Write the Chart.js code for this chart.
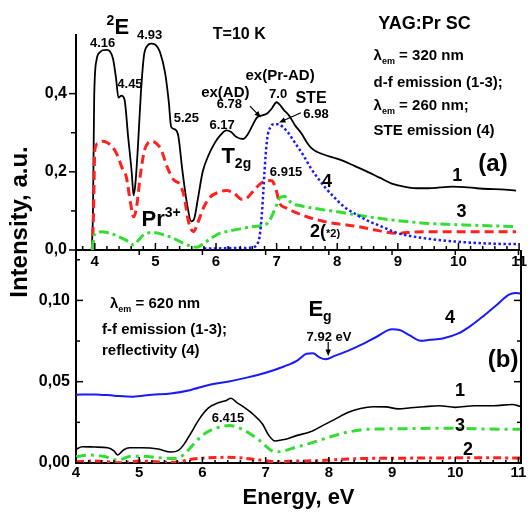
<!DOCTYPE html>
<html>
<head>
<meta charset="utf-8">
<script src="https://cdn.jsdelivr.net/npm/chart.js@4.4.1/dist/chart.umd.min.js"></script>
<style>
  html, body { margin: 0; padding: 0; background: #fff; }
  #wrap { position: relative; width: 530px; height: 513px; }
  #wrap canvas { position: absolute; left: 0; top: 0; }
</style>
</head>
<body>
<div id="wrap">
  <canvas id="chartA" width="530" height="513"></canvas>
  <canvas id="chartB" width="530" height="513"></canvas>
</div>
<script>
// === PANEL (a): excitation, lambda_em = 320 nm (1-3), 260 nm (4) ===
const a1E = [3.95, 3.97, 3.99, 4.03, 4.08, 4.13, 4.2, 4.25, 4.3, 4.35, 4.39, 4.44, 4.49, 4.55, 4.61, 4.64, 4.67, 4.71, 4.76, 4.81, 4.87, 4.93, 5.0, 5.08, 5.16, 5.22, 5.26, 5.33, 5.38, 5.44, 5.52, 5.59, 5.64, 5.7, 5.78, 5.87, 5.98, 6.08, 6.17, 6.25, 6.33, 6.45, 6.52, 6.6, 6.67, 6.78, 6.85, 6.92, 7.0, 7.05, 7.12, 7.2, 7.3, 7.41, 7.5, 7.57, 7.68, 7.8, 7.95, 8.1, 8.3, 8.5, 8.7, 8.9, 9.1, 9.3, 9.5, 9.7, 9.9, 10.1, 10.3, 10.5, 10.7, 10.95];
const a1V = [0, 0.1, 0.39, 0.487, 0.505, 0.511, 0.512, 0.508, 0.49, 0.44, 0.39, 0.395, 0.385, 0.29, 0.197, 0.14, 0.17, 0.26, 0.4, 0.496, 0.523, 0.528, 0.525, 0.504, 0.453, 0.38, 0.315, 0.308, 0.29, 0.21, 0.12, 0.073, 0.08, 0.13, 0.2, 0.24, 0.274, 0.295, 0.306, 0.302, 0.29, 0.284, 0.295, 0.318, 0.338, 0.345, 0.35, 0.362, 0.378, 0.372, 0.358, 0.345, 0.32, 0.298, 0.275, 0.261, 0.25, 0.243, 0.236, 0.228, 0.214, 0.2, 0.185, 0.17, 0.162, 0.158, 0.158, 0.16, 0.162, 0.161, 0.158, 0.156, 0.155, 0.152];

const a2E = [3.96, 3.98, 4.0, 4.05, 4.12, 4.2, 4.3, 4.38, 4.45, 4.52, 4.59, 4.64, 4.69, 4.75, 4.82, 4.88, 4.95, 5.02, 5.1, 5.19, 5.3, 5.4, 5.47, 5.55, 5.63, 5.7, 5.8, 5.9, 6.03, 6.17, 6.3, 6.42, 6.5, 6.6, 6.72, 6.85, 6.92, 6.98, 7.05, 7.15, 7.3, 7.5, 7.7, 7.9, 8.1, 8.35, 8.6, 8.8, 9.0, 9.3, 9.6, 10.0, 10.4, 10.95];
const a2V = [0, 0.1, 0.255, 0.272, 0.278, 0.275, 0.262, 0.24, 0.21, 0.187, 0.12, 0.085, 0.11, 0.19, 0.255, 0.274, 0.278, 0.272, 0.255, 0.214, 0.18, 0.168, 0.14, 0.07, 0.047, 0.07, 0.11, 0.135, 0.147, 0.152, 0.145, 0.13, 0.132, 0.148, 0.168, 0.178, 0.177, 0.16, 0.12, 0.108, 0.097, 0.085, 0.076, 0.069, 0.065, 0.06, 0.052, 0.046, 0.043, 0.046, 0.047, 0.047, 0.047, 0.047];

const a3E = [3.96, 3.99, 4.05, 4.12, 4.22, 4.34, 4.45, 4.55, 4.64, 4.72, 4.8, 4.9, 5.0, 5.15, 5.3, 5.45, 5.58, 5.68, 5.78, 5.9, 6.05, 6.2, 6.4, 6.6, 6.8, 6.87, 6.93, 7.0, 7.06, 7.13, 7.25, 7.4, 7.6, 7.8, 8.0, 8.3, 8.6, 8.9, 9.2, 9.5, 9.8, 10.1, 10.5, 10.9];
const a3V = [0, 0.038, 0.045, 0.047, 0.044, 0.038, 0.03, 0.022, 0.013, 0.025, 0.038, 0.044, 0.044, 0.038, 0.03, 0.018, 0.01, 0.007, 0.015, 0.028, 0.042, 0.048, 0.054, 0.06, 0.064, 0.072, 0.09, 0.115, 0.135, 0.137, 0.12, 0.113, 0.107, 0.102, 0.098, 0.09, 0.083, 0.077, 0.072, 0.068, 0.066, 0.064, 0.062, 0.06];

const a4E = [5.8, 6.0, 6.2, 6.4, 6.6, 6.68, 6.72, 6.76, 6.8, 6.84, 6.9, 6.96, 7.02, 7.1, 7.2, 7.3, 7.45, 7.57, 7.7, 7.8, 7.95, 8.1, 8.3, 8.5, 8.7, 9.0, 9.2, 9.4, 9.7, 10.0, 10.3, 10.6, 10.95];
const a4V = [0.004, 0.004, 0.005, 0.005, 0.007, 0.015, 0.035, 0.1, 0.2, 0.28, 0.315, 0.322, 0.322, 0.315, 0.298, 0.275, 0.24, 0.208, 0.18, 0.16, 0.135, 0.112, 0.092, 0.075, 0.062, 0.043, 0.036, 0.031, 0.025, 0.021, 0.018, 0.016, 0.015];

// === PANEL (b): lambda_em = 620 nm (1-3), reflectivity (4) ===
const b1E = [4.0, 4.1, 4.3, 4.5, 4.6, 4.66, 4.75, 4.85, 5.05, 5.3, 5.5, 5.62, 5.7, 5.8, 5.95, 6.1, 6.25, 6.38, 6.45, 6.55, 6.65, 6.8, 6.95, 7.05, 7.15, 7.3, 7.5, 7.7, 7.9, 8.1, 8.3, 8.5, 8.7, 8.9, 9.1, 9.3, 9.5, 9.75, 10.0, 10.3, 10.6, 10.9, 11.03];
const b1V = [0.0085, 0.01, 0.0098, 0.0094, 0.0075, 0.0049, 0.008, 0.0094, 0.0094, 0.0086, 0.0068, 0.0078, 0.011, 0.0172, 0.027, 0.034, 0.037, 0.0385, 0.0398, 0.037, 0.0345, 0.03, 0.024, 0.017, 0.0135, 0.0145, 0.017, 0.019, 0.023, 0.027, 0.031, 0.0335, 0.0346, 0.0345, 0.0333, 0.034, 0.0346, 0.0352, 0.0342, 0.0352, 0.0352, 0.036, 0.0348];

const b2E = [4.0, 4.3, 4.7, 5.0, 5.55, 5.85, 6.1, 6.4, 6.65, 6.9, 7.15, 7.5, 7.9, 8.3, 8.8, 9.3, 9.8, 10.3, 11.03];
const b2V = [0.0008, 0.0012, 0.0002, 0.0012, 0.0004, 0.0025, 0.0032, 0.0035, 0.003, 0.0018, 0.0008, 0.0012, 0.0015, 0.0025, 0.0029, 0.003, 0.0031, 0.0033, 0.003];

const b3E = [4.0, 4.2, 4.45, 4.66, 4.85, 5.05, 5.3, 5.58, 5.7, 5.8, 6.0, 6.2, 6.43, 6.65, 6.9, 7.1, 7.2, 7.45, 7.7, 7.95, 8.3, 8.7, 9.1, 9.6, 10.0, 10.5, 11.03];
const b3V = [0.0039, 0.0049, 0.004, 0.0018, 0.004, 0.0042, 0.0033, 0.0028, 0.005, 0.009, 0.017, 0.0213, 0.023, 0.0203, 0.014, 0.0075, 0.0069, 0.0094, 0.0121, 0.0152, 0.019, 0.0209, 0.021, 0.0213, 0.0213, 0.0209, 0.0207];

const b4E = [4.0, 4.3, 4.6, 4.9, 5.2, 5.5, 5.8, 6.1, 6.4, 6.7, 7.0, 7.3, 7.5, 7.65, 7.75, 7.85, 7.95, 8.1, 8.3, 8.5, 8.75, 9.0, 9.12, 9.28, 9.45, 9.6, 9.8, 10.05, 10.25, 10.45, 10.65, 10.85, 10.95, 11.03];
const b4V = [0.042, 0.0422, 0.0414, 0.0408, 0.042, 0.0428, 0.0448, 0.048, 0.05, 0.0525, 0.0555, 0.0595, 0.063, 0.0672, 0.0675, 0.065, 0.0638, 0.066, 0.069, 0.0725, 0.0775, 0.0822, 0.0818, 0.0785, 0.0752, 0.0758, 0.0766, 0.0797, 0.0845, 0.0905, 0.097, 0.1035, 0.1045, 0.1043];

// === TICKS ===
const xTicks = [4, 5, 6, 7, 8, 9, 10, 11];
const xLabels = ['4', '5', '6', '7', '8', '9', '10', '11'];
const yTicksA = [0, 0.2, 0.4];
const yLabelsA = ['0,0', '0,2', '0,4'];
const yMinorA = [0.1, 0.3, 0.5];
const yTicksB = [0, 0.05, 0.10];
const yLabelsB = ['0,00', '0,05', '0,10'];
const yMinorB = [0.025, 0.075, 0.125];
const xMinor = [];
for (let i = -1; i <= 35; i++) { if (i % 5) xMinor.push(+(4 + i * 0.2).toFixed(1)); }

const FONT = "'Liberation Sans', Arial, sans-serif";

// === TEXT LABELS (data coords of their panel) ===
const notesA = [
  { x: 4.13, y: 0.532, t: '4.16', size: 13 },
  { x: 4.58, y: 0.427, t: '4.45', size: 13 },
  { x: 4.905, y: 0.552, t: '4.93', size: 13 },
  { x: 4.38, y: 0.573, t: '^{2}E', size: 22 },
  { x: 5.51, y: 0.34, t: '5.25', size: 13 },
  { x: 6.10, y: 0.322, t: '6.17', size: 13 },
  { x: 6.335, y: 0.243, t: 'T_{2g}', size: 22 },
  { x: 5.095, y: 0.082, t: 'Pr^{3+}', size: 22 },
  { x: 6.154, y: 0.404, t: 'ex(AD)', size: 15 },
  { x: 6.22, y: 0.376, t: '6.78', size: 13 },
  { x: 7.057, y: 0.448, t: 'ex(Pr-AD)', size: 15 },
  { x: 7.025, y: 0.402, t: '7.0', size: 13 },
  { x: 7.567, y: 0.391, t: 'STE', size: 16 },
  { x: 7.649, y: 0.350, t: '6.98', size: 13 },
  { x: 7.156, y: 0.200, t: '6.915', size: 13 },
  { x: 7.83, y: 0.179, t: '4', size: 18 },
  { x: 9.98, y: 0.192, t: '1', size: 18 },
  { x: 10.57, y: 0.223, t: '(a)', size: 24 },
  { x: 10.05, y: 0.102, t: '3', size: 18 },
  { x: 7.80, y: 0.051, t: '2(~{*2)}', size: 18 },
  { x: 6.384, y: 0.555, t: 'T=10 K', size: 16 },
  { x: 9.44, y: 0.583, t: 'YAG:Pr SC', size: 18 },
  { x: 8.60, y: 0.499, t: 'λ_{em} = 320 nm', size: 15, align: 'left' },
  { x: 8.60, y: 0.430, t: 'd-f emission (1-3);', size: 15, align: 'left' },
  { x: 8.60, y: 0.371, t: 'λ_{em} = 260 nm;', size: 15, align: 'left' },
  { x: 8.60, y: 0.307, t: 'STE emission (4)', size: 15, align: 'left' }
];
const arrowsA = [
  { x0: 6.56, y0: 0.368, x1: 6.74, y1: 0.339 },
  { x0: 7.40, y0: 0.351, x1: 7.04, y1: 0.326 }
];
const notesB = [
  { x: 4.538, y: 0.0984, t: 'λ_{em} = 620 nm', size: 15, align: 'left' },
  { x: 4.411, y: 0.0824, t: 'f-f emission (1-3);', size: 15, align: 'left' },
  { x: 4.411, y: 0.0695, t: 'reflectivity (4)', size: 15, align: 'left' },
  { x: 6.405, y: 0.0283, t: '6.415', size: 13 },
  { x: 7.861, y: 0.0953, t: 'E_{g}', size: 22 },
  { x: 8.003, y: 0.0781, t: '7.92 eV', size: 13 },
  { x: 9.918, y: 0.0898, t: '4', size: 18 },
  { x: 10.756, y: 0.0646, t: '(b)', size: 24 },
  { x: 10.076, y: 0.0449, t: '1', size: 18 },
  { x: 10.076, y: 0.0234, t: '3', size: 18 },
  { x: 10.2, y: 0.0092, t: '2', size: 18 }
];
const arrowsB = [
  { x0: 7.99, y0: 0.0744, x1: 7.99, y1: 0.0658 }
];

// === HELPERS ===
const pts = (xs, ys) => xs.map((x, i) => ({ x, y: ys[i] }));

function series(xs, ys, color, width, dash) {
  return {
    data: pts(xs, ys),
    borderColor: color,
    borderWidth: width,
    borderDash: dash,
    pointRadius: 0,
    fill: false,
    cubicInterpolationMode: 'monotone'
  };
}

// text with _{sub} ^{sup} ~{small} parts
function richText(ctx, x, y, str, size, align) {
  const parts = [];
  const re = /([_^~])\{([^}]*)\}|([^_^~]+)/g;
  let m;
  while ((m = re.exec(str))) {
    if (m[3]) parts.push({ t: m[3], mode: '' });
    else parts.push({ t: m[2], mode: m[1] });
  }
  const small = Math.round(size * 0.62);
  let total = 0;
  parts.forEach(p => {
    p.size = p.mode ? small : size;
    ctx.font = `bold ${p.size}px ${FONT}`;
    p.w = ctx.measureText(p.t).width;
    total += p.w;
  });
  let cx = align === 'left' ? x : x - total / 2;
  const base = y + size * 0.36;
  ctx.textAlign = 'left';
  ctx.textBaseline = 'alphabetic';
  parts.forEach(p => {
    ctx.font = `bold ${p.size}px ${FONT}`;
    let by = base;
    if (p.mode === '_') by = base + size * 0.25;
    if (p.mode === '^') by = base - size * 0.42;
    ctx.fillText(p.t, cx, by);
    cx += p.w;
  });
}

function arrow(ctx, x0, y0, x1, y1) {
  const ang = Math.atan2(y1 - y0, x1 - x0), h = 7;
  ctx.lineWidth = 1.2;
  ctx.beginPath(); ctx.moveTo(x0, y0); ctx.lineTo(x1 - Math.cos(ang) * h * 0.8, y1 - Math.sin(ang) * h * 0.8); ctx.stroke();
  ctx.beginPath();
  ctx.moveTo(x1, y1);
  ctx.lineTo(x1 - h * Math.cos(ang - 0.4), y1 - h * Math.sin(ang - 0.4));
  ctx.lineTo(x1 - h * Math.cos(ang + 0.4), y1 - h * Math.sin(ang + 0.4));
  ctx.closePath(); ctx.fill();
}

// === PLUGINS ===
const notesPlugin = {
  id: 'notes',
  afterDatasetsDraw(chart, args, opts) {
    const ctx = chart.ctx, sx = chart.scales.x, sy = chart.scales.y;
    ctx.save();
    ctx.fillStyle = '#000'; ctx.strokeStyle = '#000';
    (opts.texts || []).forEach(n =>
      richText(ctx, sx.getPixelForValue(n.x), sy.getPixelForValue(n.y), n.t, n.size, n.align));
    (opts.arrows || []).forEach(a =>
      arrow(ctx, sx.getPixelForValue(a.x0), sy.getPixelForValue(a.y0), sx.getPixelForValue(a.x1), sy.getPixelForValue(a.y1)));
    if (opts.yTitle) {
      ctx.translate(opts.yTitle.x, opts.yTitle.y);
      ctx.rotate(-Math.PI / 2);
      ctx.font = `bold 24px ${FONT}`;
      ctx.textAlign = 'center'; ctx.textBaseline = 'middle';
      ctx.fillText(opts.yTitle.t, 0, 0);
    }
    ctx.restore();
  }
};

// tick marks: len is a signed pixel offset from the axis edge
const tickPlugin = {
  id: 'tickMarks',
  afterDraw(chart, args, opts) {
    const ctx = chart.ctx, a = chart.chartArea;
    ctx.save();
    ctx.strokeStyle = '#000'; ctx.lineWidth = 1.5;
    (opts.list || []).forEach(t => {
      const s = chart.scales[t.axis];
      t.values.forEach(v => {
        const p = s.getPixelForValue(v);
        if (p < a.left - 1 || p > a.right + 1 || p < a.top - 1 && t.axis === 'y') return;
        ctx.beginPath();
        if (t.side === 'bottom') { ctx.moveTo(p, a.bottom); ctx.lineTo(p, a.bottom + t.len); }
        if (t.side === 'top') { ctx.moveTo(p, a.top); ctx.lineTo(p, a.top + t.len); }
        if (t.side === 'left') { ctx.moveTo(a.left, p); ctx.lineTo(a.left + t.len, p); }
        if (t.side === 'right') { ctx.moveTo(a.right, p); ctx.lineTo(a.right + t.len, p); }
        ctx.stroke();
      });
    });
    if (opts.rightLine) {
      ctx.lineWidth = 2;
      ctx.beginPath(); ctx.moveTo(a.right, a.top); ctx.lineTo(a.right, a.bottom); ctx.stroke();
    }
    ctx.restore();
  }
};

function xScale(min, max, padding, extra) {
  return Object.assign({
    type: 'linear', min, max,
    grid: { display: false, drawTicks: false },
    border: { display: true, color: '#000', width: 2 },
    afterBuildTicks: s => { s.ticks = xTicks.map(v => ({ value: v })); },
    ticks: {
      autoSkip: false, maxRotation: 0, padding, color: '#000',
      font: { family: FONT, size: 15, weight: 'bold' },
      callback: (v, i) => xLabels[i]
    }
  }, extra || {});
}

function yScale(max, tv, tl, padding) {
  return {
    type: 'linear', min: 0, max,
    grid: { display: false, drawTicks: false },
    border: { display: true, color: '#000', width: 2 },
    afterBuildTicks: s => { s.ticks = tv.map(v => ({ value: v })); },
    afterFit: s => { s.width = 76; },
    ticks: {
      padding, color: '#000',
      font: { family: FONT, size: 16, weight: 'bold' },
      callback: (v, i) => tl[i]
    }
  };
}

const common = {
  responsive: false,
  animation: false,
  devicePixelRatio: 1,
  events: [],
  plugins: { legend: { display: false }, tooltip: { enabled: false } }
};

// === CHART (a) ===
new Chart(document.getElementById('chartA'), {
  type: 'line',
  data: {
    datasets: [
      series(a4E, a4V, '#1a1aff', 2.5, [2.5, 2.5]),
      series(a3E, a3V, '#33dd33', 3, [10, 4, 3, 4]),
      series(a2E, a2V, '#ff2020', 3, [9, 5]),
      series(a1E, a1V, '#000000', 1.8, [])
    ]
  },
  options: Object.assign({}, common, {
    layout: { padding: { top: 35, left: 0, right: 9, bottom: 243 } },
    scales: {
      x: xScale(3.69, 11.0, 3, { afterFit: s => { s.height = 20; } }),
      y: yScale(0.55, yTicksA, yLabelsA, 9)
    },
    plugins: Object.assign({}, common.plugins, {
      notes: { texts: notesA, arrows: arrowsA },
      tickMarks: {
        list: [
          { axis: 'x', side: 'bottom', values: xTicks, len: -7 },
          { axis: 'x', side: 'bottom', values: xMinor, len: -4 },
          { axis: 'y', side: 'left', values: yTicksA, len: -7 },
          { axis: 'y', side: 'left', values: yMinorA, len: -5 }
        ]
      }
    })
  }),
  plugins: [notesPlugin, tickPlugin]
});

// === CHART (b) ===
new Chart(document.getElementById('chartB'), {
  type: 'line',
  data: {
    datasets: [
      series(b2E, b2V, '#ff2020', 3, [8, 4, 3, 4]),
      series(b3E, b3V, '#33dd33', 3, [10, 5, 3, 5]),
      series(b1E, b1V, '#000000', 1.6, []),
      series(b4E, b4V, '#1a1aff', 2, [])
    ]
  },
  options: Object.assign({}, common, {
    layout: { padding: { top: 250, left: 0, right: 9, bottom: 0 } },
    scales: {
      x: xScale(4, 11.04, 1, {
        afterFit: s => { s.height = 50; },
        title: {
          display: true, text: 'Energy, eV', color: '#000',
          font: { family: FONT, size: 22, weight: 'bold' },
          padding: { top: 4, bottom: 2 }
        }
      }),
      y: yScale(0.131, yTicksB, yLabelsB, 6)
    },
    plugins: Object.assign({}, common.plugins, {
      notes: { texts: notesB, arrows: arrowsB, yTitle: { t: 'Intensity, a.u.', x: 20, y: 222 } },
      tickMarks: {
        rightLine: true,
        list: [
          { axis: 'x', side: 'bottom', values: xTicks, len: -6 },
          { axis: 'x', side: 'bottom', values: xMinor, len: -3 },
          { axis: 'x', side: 'top', values: xTicks, len: 5 },
          { axis: 'y', side: 'left', values: yTicksB, len: 7 },
          { axis: 'y', side: 'left', values: yMinorB, len: 4 },
          { axis: 'y', side: 'right', values: yTicksB, len: -7 },
          { axis: 'y', side: 'right', values: yMinorB, len: -4 }
        ]
      }
    })
  }),
  plugins: [notesPlugin, tickPlugin]
});
</script>
</body>
</html>
